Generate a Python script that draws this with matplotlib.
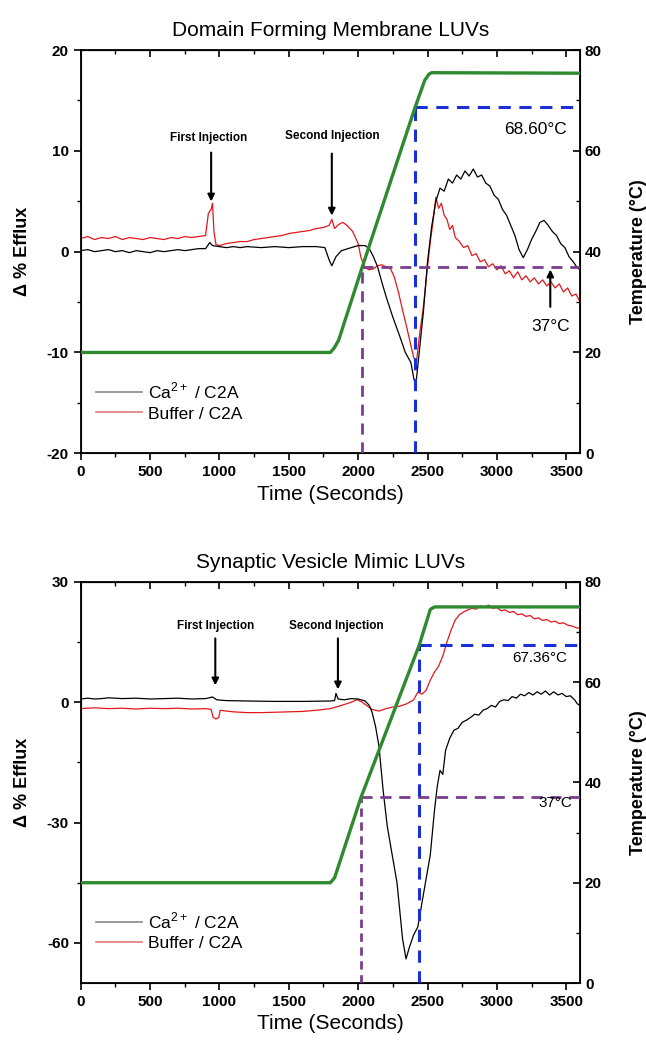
import matplotlib
matplotlib.use("Agg")
import matplotlib.pyplot as plt
from matplotlib.lines import Line2D

plt.rcParams['font.family'] = ['Liberation Sans', 'DejaVu Sans']
plt.rcParams['axes.unicode_minus'] = False
plt.rcParams['mathtext.fontset'] = 'custom'
plt.rcParams['mathtext.rm'] = 'Liberation Sans'

# ---- top panel: domain forming membrane LUVs ----
t_ca1 = [0, 50, 100, 150, 200, 250, 300, 350, 400, 450, 500, 550, 600, 650, 700, 750, 800, 850, 900, 930, 950,
         1000, 1050, 1100, 1150, 1200, 1300, 1400, 1500, 1600, 1700, 1760, 1790, 1810, 1840, 1880, 1950, 2000,
         2050, 2080, 2110, 2140, 2170, 2200, 2250, 2300, 2340, 2360, 2380, 2400, 2415, 2440, 2470, 2500, 2530,
         2560, 2590, 2620, 2650, 2680, 2710, 2740, 2770, 2800, 2830, 2860, 2890, 2920, 2950, 2980, 3010, 3040,
         3070, 3100, 3130, 3160, 3190, 3220, 3250, 3280, 3310, 3340, 3370, 3400, 3430, 3460, 3490, 3520, 3550,
         3580, 3600]
ca1 = [0.1, 0.2, 0.0, 0.1, 0.2, 0.0, 0.1, -0.1, 0.1, 0.0, -0.1, 0.1, 0.0, 0.1, 0.2, 0.1, 0.2, 0.3, 0.3, 0.9, 0.6,
       0.5, 0.4, 0.5, 0.4, 0.5, 0.4, 0.5, 0.4, 0.5, 0.5, 0.4, -0.8, -1.4, -0.5, 0.1, 0.4, 0.6,
       0.6, 0.3, -0.5, -1.5, -3.0, -4.4, -6.5, -8.4, -10.0, -10.5, -11.0, -12.5, -13.3, -10.0, -6.0, -1.0, 2.5,
       5.0, 6.3, 6.0, 7.2, 6.8, 7.6, 7.2, 8.0, 7.5, 8.2, 7.4, 7.6, 6.8, 6.5, 5.6, 5.2, 4.2,
       3.6, 2.6, 1.6, 0.2, -0.6, 0.2, 1.2, 2.0, 2.9, 3.1, 2.6, 2.0, 1.6, 0.8, 0.4, -0.5, -1.0,
       -1.6, -1.8]

t_buf1 = [0, 50, 100, 150, 200, 250, 300, 350, 400, 450, 500, 550, 600, 650, 700, 750, 800, 850, 900, 920, 940,
          950, 960, 975, 1000, 1050, 1100, 1150, 1200, 1250, 1300, 1350, 1400, 1450, 1500, 1550, 1600, 1650,
          1700, 1750, 1790, 1810, 1830, 1860, 1890, 1920, 1960, 2000, 2020, 2050, 2080, 2110, 2140, 2170, 2200,
          2230, 2260, 2290, 2320, 2350, 2380, 2400, 2420, 2440, 2470, 2500, 2520, 2540, 2560, 2580, 2600, 2620,
          2640, 2660, 2680, 2700, 2730, 2760, 2790, 2820, 2850, 2880, 2910, 2940, 2970, 3000, 3030, 3060, 3090,
          3120, 3150, 3180, 3210, 3240, 3270, 3300, 3330, 3360, 3390, 3420, 3450, 3480, 3510, 3540, 3570, 3600]
buf1 = [1.3, 1.5, 1.2, 1.4, 1.3, 1.5, 1.2, 1.4, 1.3, 1.2, 1.4, 1.3, 1.2, 1.4, 1.3, 1.5, 1.4, 1.5, 1.6, 3.8, 4.2,
        4.8, 2.0, 0.7, 0.6, 0.8, 0.9, 1.0, 1.0, 1.2, 1.3, 1.4, 1.5, 1.6, 1.8, 1.9, 2.0, 2.1,
        2.3, 2.4, 2.6, 3.2, 2.3, 2.7, 2.9, 2.6, 2.0, 0.8, -0.6, -1.6, -1.8, -1.7, -1.4, -1.3, -1.5,
        -1.6, -2.5, -4.0, -5.8, -7.5, -9.3, -10.5, -11.0, -8.5, -5.5, -1.5, 1.0, 3.0, 5.4, 4.3, 4.8, 3.6,
        3.2, 2.2, 2.6, 1.4, 1.0, 0.4, 0.6, -0.4, -0.2, -1.0, -0.8, -1.5, -1.2, -1.8, -1.4, -2.2, -1.9,
        -2.6, -2.0, -2.8, -2.4, -3.0, -2.6, -3.2, -2.8, -3.4, -3.0, -3.6, -3.2, -4.0, -3.6, -4.4, -4.2, -5.0]

t_temp1 = [0, 1800, 1830, 1860, 2030, 2410, 2480, 2510, 2530, 3600]
temp1 = [20, 20, 21, 22.5, 37, 68.6, 74, 75.2, 75.5, 75.4]
mark_t1 = [2030, 2410]      # times where 37 C and 68.60 C are reached
mark_T1 = [37, 68.6]

# ---- bottom panel: synaptic vesicle mimic LUVs ----
t_ca2 = [0, 50, 100, 150, 200, 300, 400, 500, 600, 700, 800, 900, 950, 980, 1050, 1200, 1400, 1600, 1800, 1830,
         1840, 1855, 1900, 1950, 2000, 2050, 2080, 2100, 2125, 2150, 2180, 2210, 2240, 2260, 2280, 2300, 2320,
         2345, 2370, 2400, 2430, 2460, 2490, 2520, 2550, 2570, 2590, 2610, 2630, 2660, 2690, 2720, 2750, 2780,
         2810, 2840, 2870, 2900, 2930, 2960, 2990, 3020, 3050, 3080, 3110, 3140, 3170, 3200, 3230, 3260, 3290,
         3320, 3350, 3380, 3410, 3440, 3470, 3500, 3530, 3560, 3580, 3600]
ca2 = [0.8, 1.0, 0.8, 0.9, 1.1, 0.9, 1.0, 0.8, 0.9, 1.0, 0.8, 0.9, 1.3, 0.6, 0.4, 0.3, 0.2, 0.2, 0.3, 0.4,
       2.2, 0.8, 0.6, 0.9, 0.8, 0.3, -0.8, -2.5, -6, -11, -22, -31, -37, -41, -45, -52, -59,
       -64, -61, -58, -56, -50, -44, -38, -27, -21, -17, -18, -12, -9, -7, -6.5, -5, -4.5,
       -3.8, -3, -3.2, -2, -1.6, -0.8, -1.2, 0.2, 0.6, 0.4, 1.4, 1.0, 2.0, 1.6, 2.4, 1.8, 2.6,
       2.0, 2.8, 1.8, 2.6, 1.8, 2.2, 1.4, 1.6, 0.6, -0.4, -0.8]

t_buf2 = [0, 100, 200, 300, 400, 500, 600, 700, 800, 900, 940, 955, 975, 995, 1005, 1050, 1100, 1200, 1300,
          1400, 1500, 1600, 1700, 1800, 1880, 1950, 1990, 2020, 2060, 2100, 2150, 2200, 2250, 2300, 2350, 2400,
          2430, 2460, 2490, 2520, 2550, 2580, 2610, 2640, 2670, 2700, 2730, 2760, 2790, 2820, 2850, 2880, 2910,
          2940, 2970, 3000, 3030, 3060, 3090, 3120, 3150, 3180, 3210, 3240, 3270, 3300, 3330, 3360, 3390, 3420,
          3450, 3480, 3510, 3540, 3570, 3600]
buf2 = [-1.6, -1.4, -1.6, -1.5, -1.7, -1.5, -1.6, -1.5, -1.7, -1.6, -1.8, -3.8, -4.2, -3.8, -2.0, -2.2, -2.4,
        -2.6, -2.6, -2.5, -2.4, -2.3, -2.0, -1.6, -0.8, 0.0, 0.6, 0.2, -0.8, -1.8, -2.2, -1.6, -1.2, -1.0,
        -0.4, 0.6, 2.5, 2.0, 3.0, 5.5, 7.5, 9.0, 11.5, 15, 18, 20.5, 21.8, 22.5, 23.0, 23.4, 23.2, 24.0,
        23.6, 24.2, 23.4, 23.6, 22.8, 23.0, 22.4, 22.6, 21.8, 22.0, 21.4, 21.6, 20.8, 21.0, 20.4, 20.6,
        20.0, 20.2, 19.6, 19.8, 19.2, 19.0, 18.6, 18.4]

t_temp2 = [0, 1800, 1830, 1860, 2020, 2440, 2520, 2550, 3600]
temp2 = [20, 20, 21, 23.5, 37, 67.36, 74.5, 75, 75]
mark_t2 = [2020, 2440]
mark_T2 = [37, 67.36]

RED = '#e3171b'
GREEN = '#2f8a2f'
BLUE = '#1a2fd6'
PURPLE = '#7a3d8f'

fig = plt.figure(figsize=(6.46, 10.42), dpi=100)


def panel(rect, title, t_ca, ca, t_buf, buf, t_T, T, mk_t, mk_T, ylim, yticks, yminor,
          inj, purple_v_style):
    ax = fig.add_axes(rect)
    ax.plot(t_ca, ca, color='black', lw=0.9, zorder=3)
    ax.plot(t_buf, buf, color=RED, lw=0.9, zorder=2)
    ax.set_xlim(0, 3600)
    ax.set_ylim(*ylim)
    ax.set_xticks(range(0, 3600, 500))
    ax.set_xticks(range(250, 3600, 500), minor=True)
    ax.set_yticks(yticks)
    ax.set_yticks(yminor, minor=True)
    ax.tick_params(axis='both', which='major', direction='out', length=5, width=1.2, labelsize=11)
    ax.tick_params(axis='both', which='minor', direction='out', length=3, width=1.0)
    for lab in ax.get_xticklabels() + ax.get_yticklabels():
        lab.set_fontweight('bold')
    for s in ax.spines.values():
        s.set_linewidth(1.3)
    top = ax.secondary_xaxis('top')
    top.set_xticks(range(0, 3600, 500))
    top.set_xticks(range(250, 3600, 500), minor=True)
    top.tick_params(which='major', direction='in', length=5, width=1.2, labeltop=False)
    top.tick_params(which='minor', direction='in', length=3, width=1.0)

    ax.set_title(title, fontsize=15, pad=10)
    ax.set_xlabel('Time (Seconds)', fontsize=15)
    ax.set_ylabel('Δ % Efflux', fontsize=13, fontweight='bold')
    ax.yaxis.set_label_coords(-0.10, 0.5)

    ax2 = ax.twinx()
    ax2.set_ylim(0, 80)
    ax2.set_yticks([0, 20, 40, 60, 80])
    ax2.set_yticks([10, 30, 50, 70], minor=True)
    ax2.tick_params(which='major', direction='in', length=5, width=1.2, labelsize=11)
    ax2.tick_params(which='minor', direction='in', length=3, width=1.0)
    for lab in ax2.get_yticklabels():
        lab.set_fontweight('bold')
    ax2.set_ylabel('Temperature (°C)', fontsize=13, fontweight='bold')
    ax2.yaxis.set_label_coords(1.10, 0.5)

    ax2.plot(t_T, T, color=GREEN, lw=2.4, zorder=4)
    # reference lines at 37 C (purple) and the maximum-efflux temperature (blue)
    ax2.plot([mk_t[0], mk_t[0]], [0, mk_T[0]], color=PURPLE, lw=2, ls=purple_v_style)
    ax2.plot([mk_t[0], 3600], [mk_T[0], mk_T[0]], color=PURPLE, lw=2, ls=(0, (4, 2.8)))
    ax2.plot([mk_t[1], mk_t[1]], [0, mk_T[1]], color=BLUE, lw=2.2, ls=(0, (4, 2.8)))
    ax2.plot([mk_t[1], 3600], [mk_T[1], mk_T[1]], color=BLUE, lw=2.2, ls=(0, (4, 2.8)))

    # injection arrows
    for (tx, ty, axx, ay0, ay1, txt) in inj:
        ax.text(tx, ty, txt, fontsize=8.5, fontweight='bold', ha='center', va='center')
        ax.annotate('', xy=(axx, ay1), xytext=(axx, ay0),
                    arrowprops=dict(arrowstyle='-|>', color='black', lw=1.5, mutation_scale=10))

    handles = [Line2D([], [], color='#8a8a8a', lw=1.2), Line2D([], [], color='#e07a7a', lw=1.2)]
    ax.legend(handles, ['Ca$^{2+}$ / C2A', 'Buffer / C2A'], loc='lower left',
              bbox_to_anchor=(0.0, 0.04), frameon=False, fontsize=12.5, handlelength=2.6,
              handletextpad=0.4, labelspacing=0.3)
    return ax, ax2


ax, ax2 = panel([0.125, 0.565, 0.773, 0.387], 'Domain Forming Membrane LUVs',
                t_ca1, ca1, t_buf1, buf1, t_temp1, temp1, mark_t1, mark_T1,
                (-20, 20), [-20, -10, 0, 10, 20], [-15, -5, 5, 15],
                [(925, 11.3, 940, 10.1, 4.7, 'First Injection'),
                 (1810, 11.5, 1810, 10.0, 3.3, 'Second Injection')],
                (0, (4, 2.8)))
ax2.text(3275, 64.3, '68.60°C', fontsize=12.5, ha='center', va='center')
ax2.annotate('', xy=(3385, 37), xytext=(3385, 28.5),
             arrowprops=dict(arrowstyle='-|>', color='black', lw=1.5, mutation_scale=10))
ax2.text(3390, 25.2, '37°C', fontsize=12.5, ha='center', va='center')

ax, ax2 = panel([0.125, 0.0566, 0.773, 0.385], 'Synaptic Vesicle Mimic LUVs',
                t_ca2, ca2, t_buf2, buf2, t_temp2, temp2, mark_t2, mark_T2,
                (-70, 30), [-60, -30, 0, 30], [-45, -15, 15],
                [(970, 19.1, 970, 16.6, 3.5, 'First Injection'),
                 (1840, 19.1, 1854, 16.6, 2.5, 'Second Injection')],
                (0, (3, 2)))
ax2.text(3310, 66.3, '67.36°C', fontsize=11, ha='center', va='top')
ax2.text(3425, 37.3, '37°C', fontsize=11, ha='center', va='top')

fig.savefig('out.png', dpi=100)
